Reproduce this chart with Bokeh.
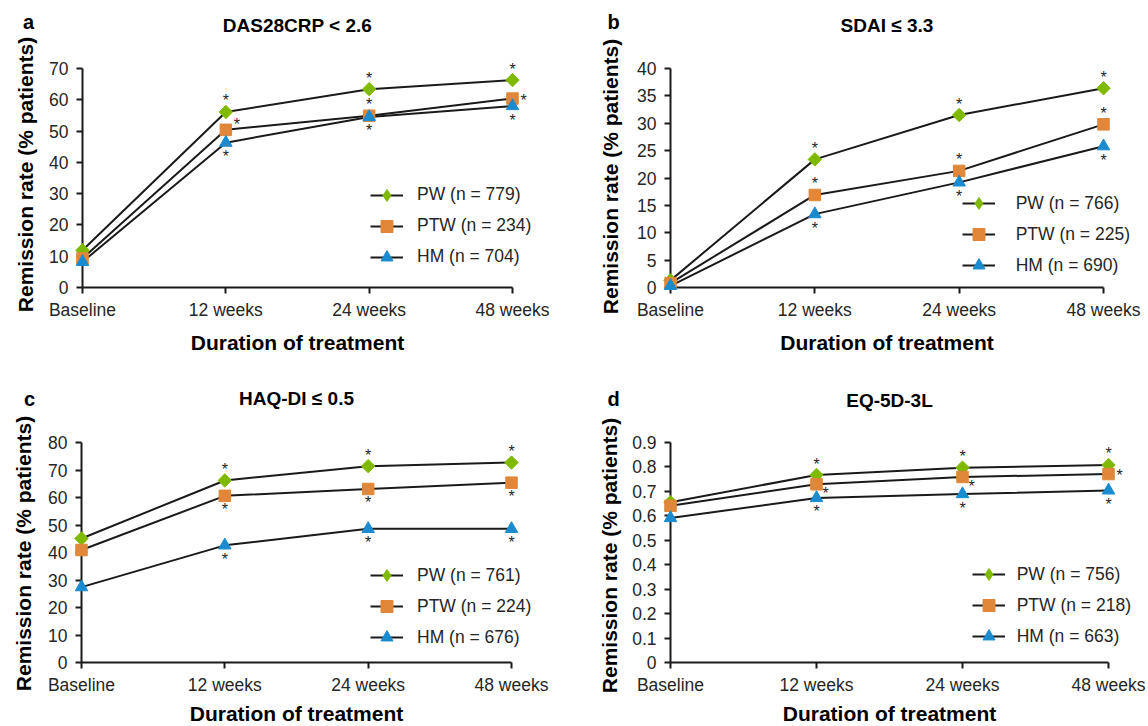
import numpy as np
from bokeh.plotting import figure
from bokeh.models import (Range1d, FixedTicker, Label, Legend, LegendItem,
                          NumeralTickFormatter, ColumnDataSource)
from bokeh.layouts import column, row
from bokeh.embed import file_html
from bokeh.resources import INLINE
from bokeh.core.properties import value

# ---------------- data ----------------
categories = ["Baseline", "12 weeks", "24 weeks", "48 weeks"]
series_names = ["PW", "PTW", "HM"]
titles = ["DAS28CRP < 2.6", "SDAI ≤ 3.3", "HAQ-DI ≤ 0.5", "EQ-5D-3L"]
panel_letters = ["a", "b", "c", "d"]
y_axis_title = "Remission rate (% patients)"
x_axis_title = "Duration of treatment"

# panel a: DAS28CRP < 2.6
a_pw = [11.9, 56.1, 63.4, 66.3]
a_ptw = [9.3, 50.4, 54.9, 60.4]
a_hm = [8.2, 46.3, 54.5, 58.0]
a_n = [779, 234, 704]
a_stars = [["", "N", "N", "N"], ["", "NE", "N", "E"], ["", "S", "S", "S"]]
y_ticks_a = [0, 10, 20, 30, 40, 50, 60, 70]

# panel b: SDAI <= 3.3
b_pw = [1.3, 23.4, 31.5, 36.4]
b_ptw = [0.8, 16.9, 21.3, 29.8]
b_hm = [0.3, 13.4, 19.2, 25.8]
b_n = [766, 225, 690]
b_stars = [["", "N", "N", "N"], ["", "N", "N", "N"], ["", "S", "S", "S"]]
y_ticks_b = [0, 5, 10, 15, 20, 25, 30, 35, 40]

# panel c: HAQ-DI <= 0.5
c_pw = [45.1, 66.2, 71.4, 72.7]
c_ptw = [40.9, 60.6, 63.1, 65.4]
c_hm = [27.4, 42.6, 48.6, 48.6]
c_n = [761, 224, 676]
c_stars = [["", "N", "N", "N"], ["", "S", "S", "S"], ["", "S", "S", "S"]]
y_ticks_c = [0, 10, 20, 30, 40, 50, 60, 70, 80]

# panel d: EQ-5D-3L
d_pw = [0.656, 0.767, 0.797, 0.808]
d_ptw = [0.641, 0.729, 0.759, 0.771]
d_hm = [0.591, 0.673, 0.689, 0.704]
d_n = [756, 218, 663]
d_stars = [["", "N", "N", "N"], ["", "SE", "SE", "E"], ["", "S", "S", "S"]]
y_ticks_d = [0, 0.1, 0.2, 0.3, 0.4, 0.5, 0.6, 0.7, 0.8, 0.9]

# ---------------- styles ----------------
COLORS = ["#7FBA00", "#E0873A", "#1A8BCF"]
MARKERS = ["square", "square", "triangle"]
LEGEND_MARKERS = ["diamond", "square", "triangle"]
ANGLES = [np.pi / 4, 0.0, 0.0]
SIZES = [9.5, 11.5, 12.5]
LINE_COLOR = "#1a1a1a"
TEXT_COLOR = "#262626"
FONT = "Liberation Sans"
STAR_OFF = {"N": (0, -12.5), "S": (0, 12.5), "E": (11, 0),
            "NE": (11, -7), "SE": (9, 8)}
STAR_FS = 16
STAR_SHIFT = 1.5

# geometry: data-area corners (page px) and figure box
panels = [
    dict(vals=[a_pw, a_ptw, a_hm], n=a_n, stars=a_stars, ticks=y_ticks_a,
         x0=82, x3=512, y0=287, ytop=68, fig=(0, 0, 574, 363),
         letter=(-54, 266), title=(215, 262), ytitle=(-57, 113), xtitle=(215, -55),
         leg=(288, 30.3, 14)),
    dict(vals=[b_pw, b_ptw, b_hm], n=b_n, stars=b_stars, ticks=y_ticks_b,
         x0=670, x3=1103, y0=287, ytop=68, fig=(574, 0, 574, 363),
         letter=(-57, 266), title=(216.5, 262), ytitle=(-60, 111), xtitle=(216.5, -55),
         leg=(291.7, 22, 21)),
    dict(vals=[c_pw, c_ptw, c_hm], n=c_n, stars=c_stars, ticks=y_ticks_c,
         x0=81, x3=511, y0=662, ytop=442, fig=(0, 363, 574, 363),
         letter=(-52, 264), title=(215, 264), ytitle=(-58, 109), xtitle=(215, -51),
         leg=(289, 24.6, 14)),
    dict(vals=[d_pw, d_ptw, d_hm], n=d_n, stars=d_stars, ticks=y_ticks_d,
         x0=670, x3=1108, y0=662, ytop=442, fig=(574, 363, 574, 363),
         letter=(-57, 264), title=(219, 262), ytitle=(-61, 107), xtitle=(219, -51),
         leg=(301.7, 26, 12)),
]


def make_panel(i, cfg):
    x_idx = list(range(len(categories)))
    ymax = cfg["ticks"][-1]
    fx, fy, fwid, fhei = cfg["fig"]
    wdata = cfg["x3"] - cfg["x0"]
    hdata = cfg["y0"] - cfg["ytop"]
    pad_l = cfg["x0"] - fx
    pad_r = fx + fwid - cfg["x3"]
    pad_t = cfg["ytop"] - fy
    pad_b = fy + fhei - cfg["y0"]
    dxp = (len(categories) - 1) / wdata
    dyp = ymax / hdata

    # the frame covers the whole canvas so nothing gets clipped
    p = figure(frame_width=fwid, frame_height=fhei,
               min_border_left=0, min_border_right=0,
               min_border_top=0, min_border_bottom=0,
               x_range=Range1d(-pad_l * dxp, 3 + pad_r * dxp),
               y_range=Range1d(-pad_b * dyp, ymax + pad_t * dyp),
               toolbar_location=None, output_backend="svg", title=None)
    p.xgrid.visible = False
    p.ygrid.visible = False
    p.outline_line_color = None
    p.background_fill_color = "white"
    p.border_fill_color = "white"

    xa = p.xaxis[0]
    ya = p.yaxis[0]
    for ax in (xa, ya):
        ax.fixed_location = 0
        ax.level = "underlay"
        ax.axis_line_color = LINE_COLOR
        ax.axis_line_width = 2
        ax.major_tick_line_color = LINE_COLOR
        ax.major_tick_line_width = 2
        ax.major_tick_out = 6
        ax.major_tick_in = 0
        ax.minor_tick_line_color = None
        ax.major_label_text_font = FONT
        ax.major_label_text_font_size = "17.5px"
        ax.major_label_text_color = TEXT_COLOR
    xa.bounds = (0, 3)
    ya.bounds = (0, ymax)
    xa.ticker = FixedTicker(ticks=x_idx)
    xa.major_label_overrides = {k: c for k, c in zip(x_idx, categories)}
    xa.major_label_standoff = 6
    ya.ticker = FixedTicker(ticks=cfg["ticks"])
    ya.major_label_standoff = 8
    if isinstance(ymax, float):
        ya.formatter = NumeralTickFormatter(format="0.[0]")

    items = []
    line_rs = []
    for s, vals in enumerate(cfg["vals"]):
        lr = p.line(x_idx, vals, line_color=LINE_COLOR, line_width=2)
        line_rs.append(lr)
    for s, vals in enumerate(cfg["vals"]):
        p.scatter(x_idx, vals, marker=MARKERS[s], angle=ANGLES[s], size=SIZES[s],
                  fill_color=COLORS[s], line_color=COLORS[s], line_width=1)
        # legend-only sample of the marker (hidden from the plot area)
        lg = p.scatter(x_idx[:1], vals[:1], marker=LEGEND_MARKERS[s], size=SIZES[s],
                       fill_color=COLORS[s], line_color=COLORS[s], line_width=1,
                       visible=False)
        items.append(LegendItem(label=f"{series_names[s]} (n = {cfg['n'][s]})",
                                renderers=[line_rs[s], lg]))

    # significance asterisks
    sx, sy, ox, oy = [], [], [], []
    for s, vals in enumerate(cfg["vals"]):
        for k, tok in enumerate(cfg["stars"][s]):
            if tok:
                sx.append(x_idx[k])
                sy.append(vals[k])
                ox.append(STAR_OFF[tok][0])
                oy.append(STAR_OFF[tok][1] + STAR_SHIFT)
    src = ColumnDataSource(dict(x=sx, y=sy, ox=ox, oy=oy, t=["*"] * len(sx)))
    p.text(x="x", y="y", text="t", x_offset="ox", y_offset="oy", source=src,
           text_font=value(FONT), text_font_size=value(f"{STAR_FS}px"),
           text_align="center", text_baseline="alphabetic", text_color=TEXT_COLOR)

    lx, lrow, lstand = cfg["leg"]
    gh, sp = 30, 1
    legend = Legend(items=items, location=(lx + pad_l, lrow + pad_b - gh / 2),
                    orientation="vertical", glyph_width=33, glyph_height=gh,
                    label_height=gh, spacing=sp, padding=0, margin=0,
                    label_standoff=lstand, border_line_alpha=0,
                    background_fill_alpha=0, inactive_fill_alpha=0,
                    label_text_font=FONT,
                    label_text_font_size="17.5px", label_text_color=TEXT_COLOR)
    p.add_layout(legend)

    def lab(pos, text, size, angle=0.0, bold=True, color="black"):
        return Label(x=pos[0] + pad_l, y=pos[1] + pad_b, x_units="screen", y_units="screen",
                     text=text, text_align="center", text_baseline="middle",
                     text_font=FONT, text_font_size=size,
                     text_font_style="bold" if bold else "normal",
                     text_color=color, angle=angle)

    p.add_layout(lab(cfg["letter"], panel_letters[i], "20px"))
    p.add_layout(lab(cfg["title"], titles[i], "19px"))
    p.add_layout(lab(cfg["ytitle"], y_axis_title, "21px", angle=np.pi / 2))
    p.add_layout(lab(cfg["xtitle"], x_axis_title, "21px"))
    return p


figs = [make_panel(i, cfg) for i, cfg in enumerate(panels)]
layout = column(row(figs[0], figs[1]), row(figs[2], figs[3]))
open("out.html", "w").write(file_html(layout, INLINE))
